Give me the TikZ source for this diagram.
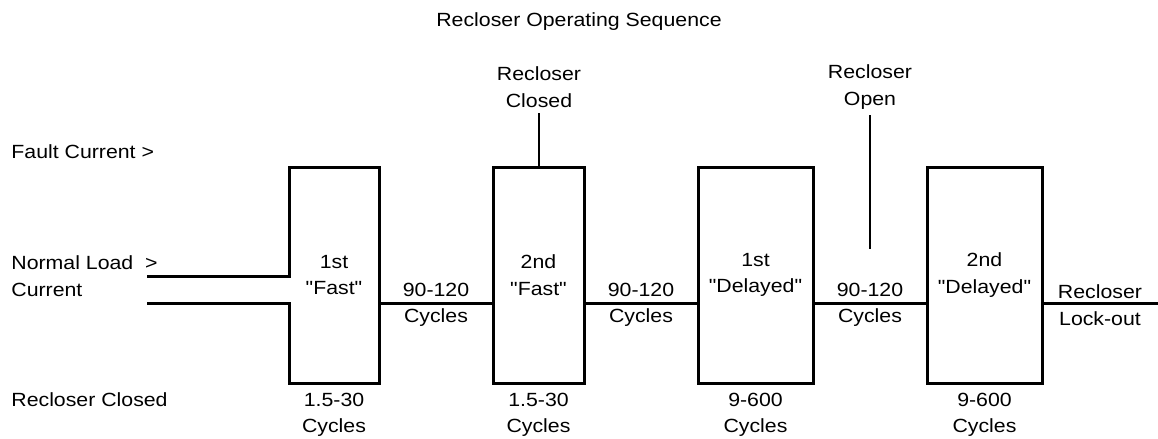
\documentclass[tikz,border=0pt]{standalone}
\usepackage{fontspec}
\setmainfont[FakeStretch=1.115, Ligatures=TeXOff]{Liberation Sans}
\usetikzlibrary{positioning}

\tikzset{
  box/.style={draw, line width=1.5pt, minimum height=108pt, inner sep=0pt, outer sep=0pt, align=center},
  wire/.style={line width=1.5pt},
  tick/.style={line width=1pt},
  lbl/.style={align=center, inner sep=0pt},
  tag/.style={align=center, inner sep=0pt, outer sep=3pt},
}

\begin{document}
\begin{tikzpicture}[x=0.5pt, y=-0.5pt, font=\fontsize{9.55}{13.25}\selectfont]
\useasboundingbox (0,0) rectangle (1158,439);
\node[lbl, anchor=base] (title) at (579,26) {Recloser Operating Sequence};

% left hand labels
\node[lbl, anchor=base west] (fault) at (11,158) {Fault Current >};
\node[lbl, anchor=west, align=left] (load) at (11,276) {Normal Load~~>\\Current};
\node[lbl, anchor=base west] (closed) at (11,406) {Recloser Closed};

% the four operations
\node[box, draw=none, minimum width=45pt] (fast1) at (334,275) {1st\\"Fast"};
\node[box, minimum width=45.5pt] (fast2) at (538.5,275) {2nd\\"Fast"};
\node[box, minimum width=57.5pt] (slow1) at (755.5,275) {1st\\"Delayed"};
\node[box, minimum width=57.5pt] (slow2) at (984.5,275) {2nd\\"Delayed"};

\coordinate (loadtop) at (147,276);
\coordinate (loadbot) at (147,303);
\coordinate (lockout) at (1158,303);
\coordinate (openend) at (870,249);

% load current into the first trip
\draw[wire] (loadtop) -- (loadtop -| fast1.west) -- (fast1.north west) -- (fast1.north east)
  -- (fast1.south east) -- (fast1.south west) -- (loadbot -| fast1.west) -- (loadbot);

% open intervals
\draw[wire] (fast1.east |- loadbot) -- node[lbl, yshift=-1pt] (dead1) {90-120\\Cycles} (fast2.west |- loadbot);
\draw[wire] (fast2.east |- loadbot) -- node[lbl, yshift=-1pt] (dead2) {90-120\\Cycles} (slow1.west |- loadbot);
\draw[wire] (slow1.east |- loadbot) -- node[lbl, yshift=-1pt] (dead3) {90-120\\Cycles} (slow2.west |- loadbot);
\draw[wire] (slow2.east |- loadbot) -- node[lbl, yshift=-1pt] (lock) {Recloser\\Lock-out} (lockout);

% markers
\node[tag] (closedtag) at (539,87) {Recloser\\Closed};
\draw[tick] (closedtag.south) -- (closedtag.south |- fast2.north);
\node[tag] (opentag) at (870,87) {Recloser\\Open};
\draw[tick] (opentag) -- (openend);

% trip times
\foreach \op/\t in {fast1/1.5-30, fast2/1.5-30, slow1/9-600, slow2/9-600}
  \node[lbl, below=4.8pt of \op] (\op-cyc) {\t\\Cycles};
\end{tikzpicture}
\end{document}
